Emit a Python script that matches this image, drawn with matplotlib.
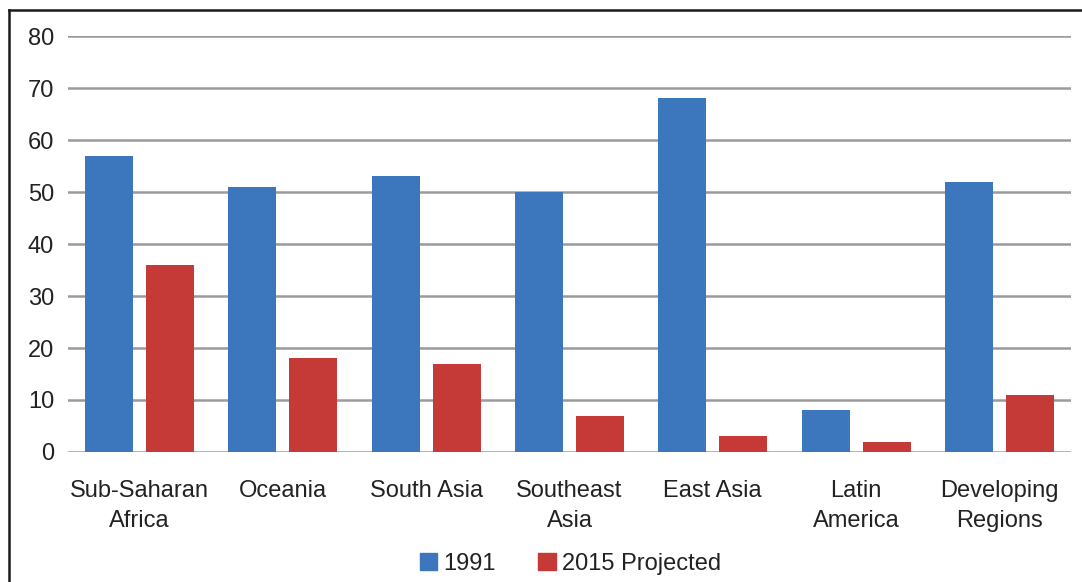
import numpy as np
import matplotlib.pyplot as plt
from matplotlib.patches import Patch
from matplotlib.lines import Line2D

plt.rcParams['font.family'] = ['Liberation Sans', 'DejaVu Sans']

regions = ['Sub-Saharan\nAfrica', 'Oceania', 'South Asia', 'Southeast\nAsia',
           'East Asia', 'Latin\nAmerica', 'Developing\nRegions']
v1991 = [57, 51, 53, 50, 68, 8, 52]
v2015 = [36, 18, 17, 7, 3, 2, 11]
yticks = [0, 10, 20, 30, 40, 50, 60, 70, 80]

BLUE = '#3C77BE'
RED = '#C53A36'
TXT = '#222222'
FS = 17

fig = plt.figure(figsize=(10.82, 5.82), dpi=100)
ax = fig.add_axes([0.0628, 0.2234, 0.927, 0.7146])

x = np.arange(len(regions))
w = 0.335
ax.bar(x - 0.213, v1991, w, color=BLUE, zorder=3)
ax.bar(x + 0.213, v2015, w, color=RED, zorder=3)

ax.set_xlim(-0.5, len(regions) - 0.5)
ax.set_ylim(0, 80)
ax.set_yticks(yticks)
ax.set_yticklabels([str(t) for t in yticks], fontsize=FS, color=TXT)
ax.set_xticks(x)
ax.set_xticklabels(regions, fontsize=FS, color=TXT, linespacing=1.5)
ax.tick_params(axis='both', length=0)
ax.tick_params(axis='y', pad=10)
ax.tick_params(axis='x', pad=20)
for t in yticks:
    ax.axhline(t, color='#9a9a9a', lw=1.8, zorder=1)
for s in ax.spines.values():
    s.set_visible(False)

handles = [Patch(color=BLUE, label='1991'), Patch(color=RED, label='2015 Projected')]
fig.legend(handles=handles, loc='center', bbox_to_anchor=(0.527, 0.031), ncol=2,
           frameon=False, fontsize=FS, handlelength=0.75, handleheight=0.75,
           handletextpad=0.25, columnspacing=1.8, labelcolor=TXT)

# frame edges of the original image (left and top only)
fig.add_artist(Line2D([0.0083, 0.0083], [0, 0.982], transform=fig.transFigure, color='#1a1a1a', lw=1.8))
fig.add_artist(Line2D([0.0083, 1.0], [0.982, 0.982], transform=fig.transFigure, color='#1a1a1a', lw=1.8))

fig.savefig('out.png', dpi=100)
